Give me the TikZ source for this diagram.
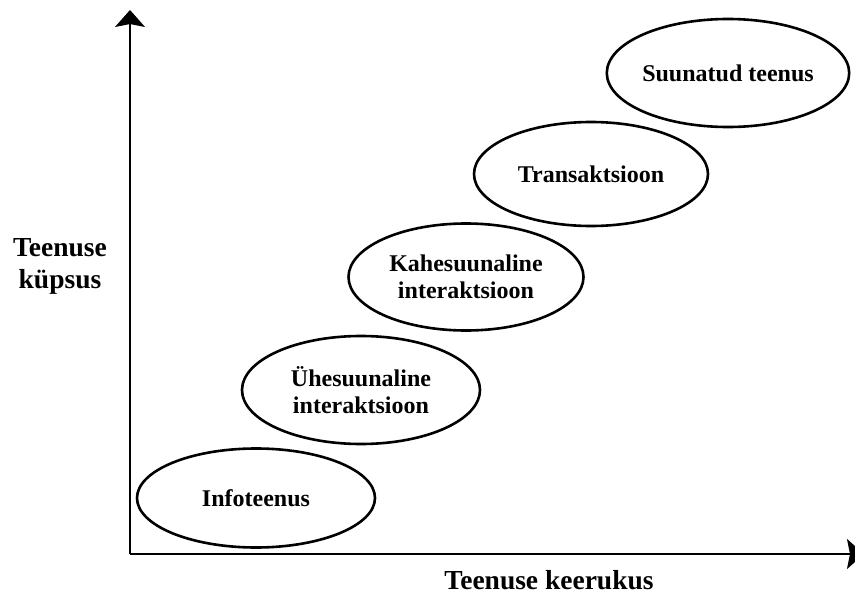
\documentclass[tikz,border=0pt]{standalone}
\usepackage{fontspec}
\setmainfont{Liberation Serif}
\usetikzlibrary{shapes.geometric,arrows.meta}
\tikzset{
  stage/.style={draw=black, line width=2.6pt, ellipse, inner sep=0pt, align=center,
    font=\fontsize{24}{27}\selectfont\bfseries},
  axislabel/.style={align=center, inner sep=0pt, font=\fontsize{27.5}{32}\selectfont\bfseries},
  axis/.style={line width=1.6pt, -{Stealth[length=17pt, width=30pt, inset=3pt]}}
}
\begin{document}
\begin{tikzpicture}[x=1pt, y=-1pt]
\useasboundingbox (0,0) rectangle (855,597);
\coordinate (origin) at (130,554);
\coordinate (ytop) at (130,10);
\coordinate (xend) at (864,554);
\draw[axis] (origin) -- (ytop);
\draw[axis] (origin) -- (xend);
\node[stage, minimum width=238pt, minimum height=99pt] (info) at (256,498) {Infoteenus};
\node[stage, minimum width=238pt, minimum height=108pt] (yhe) at (361,390) {Ühesuunaline\\interaktsioon};
\node[stage, minimum width=235pt, minimum height=107pt] (kahe) at (466,277) {Kahesuunaline\\interaktsioon};
\node[stage, minimum width=234pt, minimum height=104pt] (trans) at (591,174) {Transaktsioon};
\node[stage, minimum width=241pt, minimum height=108pt] (suun) at (728,73) {Suunatud teenus};
\node[axislabel] (ylab) at (60,266) {Teenuse\\küpsus};
\node[axislabel] (xlab) at (549,580) {Teenuse keerukus};
\end{tikzpicture}
\end{document}
